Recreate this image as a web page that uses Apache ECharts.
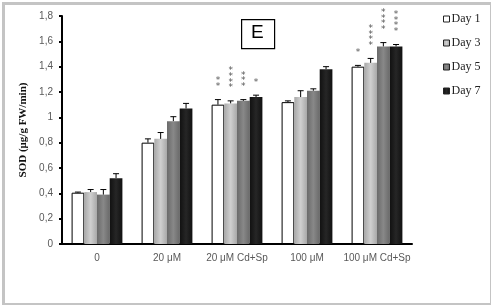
<!DOCTYPE html>
<html lang="en">
<head>
<meta charset="UTF-8">
<title>SOD</title>
<script src="https://cdn.jsdelivr.net/npm/echarts@6/dist/echarts.min.js"></script>
</head>
<body style="margin:0;background:#fff">
<div id="chart" style="width:491px;height:305px"></div>
<script>
// values
const categories = ['0', '20 μM', '20 μM Cd+Sp', '100 μM', '100 μM Cd+Sp'];
const seriesNames = ['Day 1', 'Day 3', 'Day 5', 'Day 7'];
const day1 = [0.405, 0.80, 1.10, 1.12, 1.40];
const day3 = [0.41, 0.83, 1.11, 1.16, 1.43];
const day5 = [0.39, 0.97, 1.13, 1.21, 1.56];
const day7 = [0.52, 1.07, 1.16, 1.38, 1.56];
const err1 = [0.005, 0.03, 0.04, 0.01, 0.01];
const err3 = [0.02, 0.05, 0.02, 0.05, 0.035];
const err5 = [0.04, 0.035, 0.01, 0.015, 0.03];
const err7 = [0.035, 0.04, 0.015, 0.02, 0.015];
const stars1 = [0, 0, 2, 0, 1];
const stars3 = [0, 0, 4, 0, 4];
const stars5 = [0, 0, 3, 0, 4];
const stars7 = [0, 0, 1, 0, 4];
const yTicks = { min: 0, max: 1.8, step: 0.2 };

const BW = 12.7;
const values = [day1, day3, day5, day7];
const errs = [err1, err3, err5, err7];
const stars = [stars1, stars3, stars5, stars7];

function grad(a, b) {
    return new echarts.graphic.LinearGradient(0, 0, 1, 0, [
        { offset: 0, color: a }, { offset: 0.5, color: b }, { offset: 1, color: a }
    ]);
}
const fills = [
    '#ffffff',
    grad('#a8a8a8', '#cfcfcf'),
    grad('#6a6a6a', '#888888'),
    grad('#111111', '#262626')
];

function errRender(idx) {
    return function (params, api) {
        const ci = api.value(0), v = api.value(1), e = api.value(2), n = api.value(3);
        const base = api.coord([ci, v]);
        const top = api.coord([ci, v + e]);
        const x = base[0] + (idx - 1.5) * BW;
        const ls = { stroke: '#000', lineWidth: 1 };
        const kids = [
            { type: 'line', shape: { x1: x, y1: base[1], x2: x, y2: top[1] }, style: ls },
            { type: 'line', shape: { x1: x - 3, y1: top[1], x2: x + 3, y2: top[1] }, style: ls }
        ];
        for (let k = 0; k < n; k++) {
            kids.push({
                type: 'text',
                style: {
                    x: x, y: top[1] - 13 - k * 5.6, text: '*',
                    fill: '#555', font: '9px "DejaVu Sans"',
                    align: 'center', verticalAlign: 'middle'
                }
            });
        }
        return { type: 'group', children: kids };
    };
}

const series = [];
seriesNames.forEach(function (name, i) {
    series.push({
        name: name,
        type: 'bar',
        barWidth: BW,
        barGap: '0%',
        data: values[i],
        itemStyle: {
            color: fills[i],
            borderColor: i === 0 ? '#000' : 'transparent',
            borderWidth: i === 0 ? 1 : 0
        }
    });
});
seriesNames.forEach(function (name, i) {
    series.push({
        type: 'custom',
        name: name + ' err',
        z: 10,
        renderItem: errRender(i),
        encode: { x: 0, y: 1 },
        data: values[i].map(function (v, j) { return [j, v, errs[i][j], stars[i][j]]; })
    });
});

const chart = echarts.init(document.getElementById('chart'));
chart.setOption({
    animation: false,
    grid: { left: 62, right: 79, top: 16, bottom: 61 },
    legend: {
        data: seriesNames,
        orient: 'vertical',
        left: 438,
        top: 8,
        itemWidth: 6,
        itemHeight: 6,
        itemGap: 12,
        icon: 'rect',
        itemStyle: { borderColor: '#222', borderWidth: 1 },
        textStyle: { fontFamily: 'Liberation Serif', fontSize: 12, color: '#222', padding: [0, 0, 0, -3] }
    },
    xAxis: {
        type: 'category',
        data: categories,
        axisLine: { lineStyle: { color: '#000', width: 2 } },
        axisTick: { length: 3, lineStyle: { color: '#000', width: 2 } },
        axisLabel: { interval: 0, color: '#595959', fontFamily: 'Liberation Sans', fontSize: 10, margin: 9 }
    },
    yAxis: {
        type: 'value',
        min: yTicks.min,
        max: yTicks.max,
        interval: yTicks.step,
        name: 'SOD (μg/g FW/min)',
        nameLocation: 'middle',
        nameRotate: 90,
        nameGap: 32,
        nameTextStyle: { fontFamily: 'Liberation Serif', fontWeight: 'bold', fontSize: 11, color: '#111' },
        splitLine: { show: false },
        axisLine: { show: true, lineStyle: { color: '#000', width: 2 } },
        axisTick: { show: true, length: 3, lineStyle: { color: '#000', width: 2 } },
        axisLabel: {
            color: '#595959', fontFamily: 'Liberation Sans', fontSize: 10, margin: 9,
            formatter: function (v) { return String(+v.toFixed(1)).replace('.', ','); }
        }
    },
    graphic: [
        { type: 'rect', left: 1, top: 1, shape: { width: 488, height: 301 },
          style: { fill: 'none', stroke: '#c4c4c4', lineWidth: 3 }, z: 0 },
        { type: 'rect', left: 241, top: 19, shape: { width: 33, height: 29 },
          style: { fill: '#fff', stroke: '#000', lineWidth: 1.2 }, z: 5 },
        { type: 'text', left: 251, top: 23, z: 6,
          style: { text: 'E', font: '19px "Liberation Sans"', fill: '#000' } }
    ],
    series: series
});
</script>
</body>
</html>
